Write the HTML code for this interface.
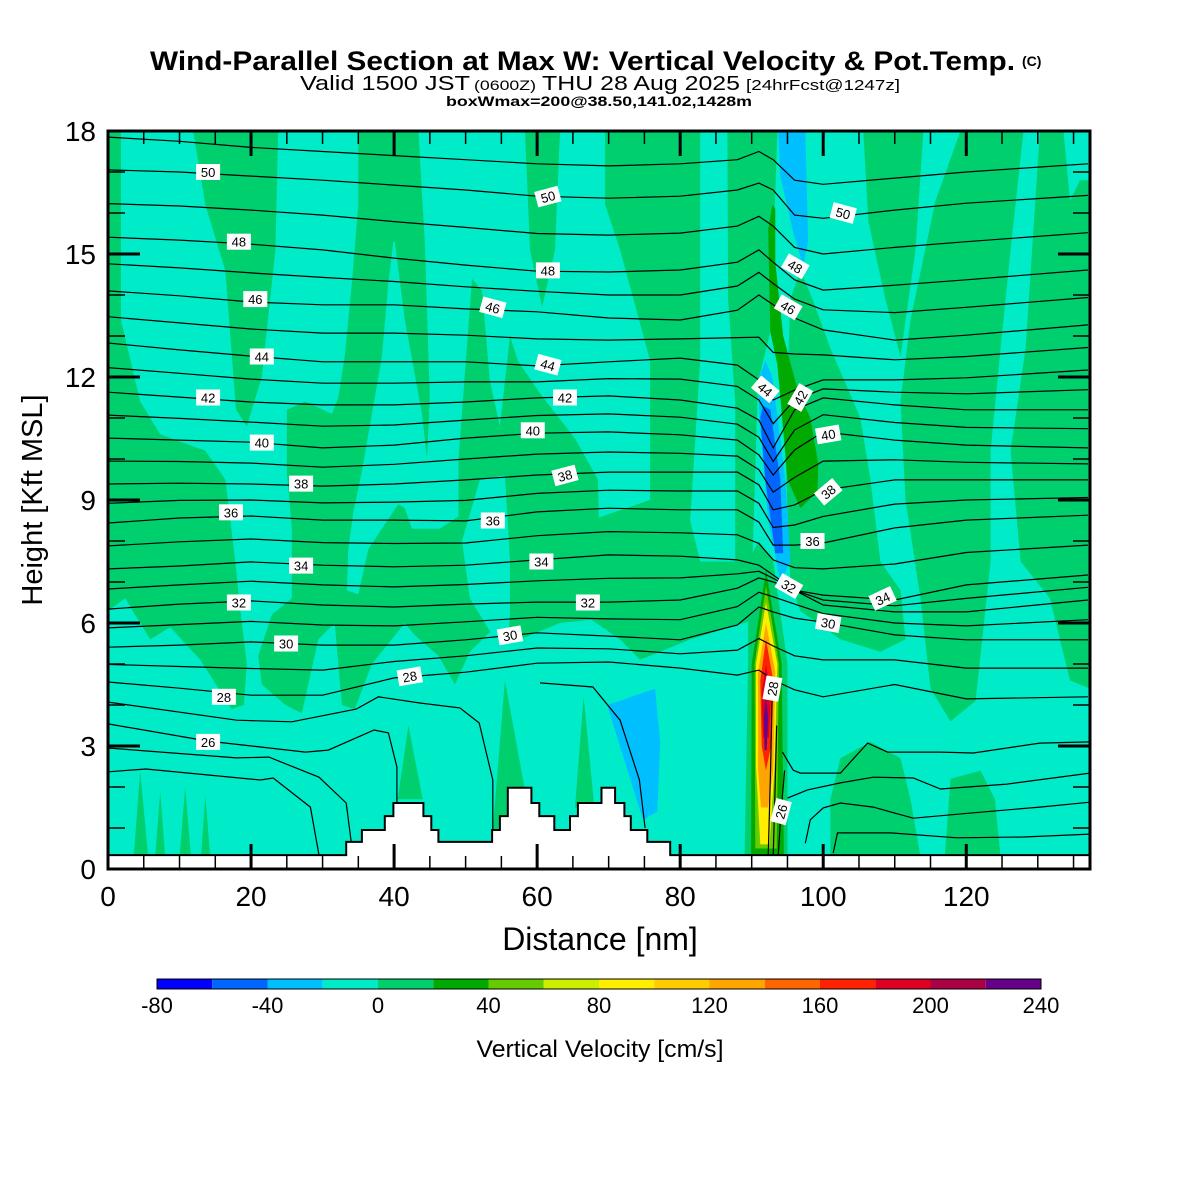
<!DOCTYPE html>
<html><head><meta charset="utf-8"><title>Wind-Parallel Section</title>
<style>
html,body{margin:0;padding:0;background:#fff;}
svg{display:block;font-family:"Liberation Sans",Arial,sans-serif;}
</style></head>
<body>
<svg id="chart" xmlns="http://www.w3.org/2000/svg" width="1200" height="1200" viewBox="0 0 1200 1200">
<rect x="0" y="0" width="1200" height="1200" fill="#ffffff"/>
<g>
<text x="150" y="70" font-size="27" font-weight="bold" textLength="865" lengthAdjust="spacingAndGlyphs">Wind-Parallel Section at Max W: Vertical Velocity &amp; Pot.Temp.</text>
<text x="1022" y="66" font-size="14" font-weight="bold">(C)</text>
<text y="90"><tspan x="300" font-size="20" textLength="170" lengthAdjust="spacingAndGlyphs">Valid 1500 JST</tspan><tspan x="474" font-size="14" textLength="62" lengthAdjust="spacingAndGlyphs">(0600Z)</tspan><tspan x="542" font-size="20" textLength="198" lengthAdjust="spacingAndGlyphs">THU 28 Aug 2025</tspan><tspan x="746" font-size="15" textLength="154" lengthAdjust="spacingAndGlyphs">[24hrFcst@1247z]</tspan></text>
<text x="446" y="106" font-size="14" font-weight="bold" textLength="306" lengthAdjust="spacingAndGlyphs">boxWmax=200@38.50,141.02,1428m</text>
</g>
<defs><clipPath id="plotClip"><rect x="108" y="131" width="982" height="738"/></clipPath></defs>
<g id="plot" clip-path="url(#plotClip)"></g>
<g id="axes"></g>
<g id="cbar"></g>
<text x="600" y="950" font-size="32" text-anchor="middle">Distance [nm]</text>
<text transform="translate(42,500) rotate(-90)" font-size="29" text-anchor="middle">Height [Kft MSL]</text>
<text x="600" y="1057" font-size="24" text-anchor="middle" textLength="247" lengthAdjust="spacingAndGlyphs">Vertical Velocity [cm/s]</text>
</svg>
<script>
// ---------- data ----------
const X_MAX = 137.3, Y_MAX = 18;
const xTicks = [0,20,40,60,80,100,120];
const yTicks = [0,3,6,9,12,15,18];
const cbarLevels = [-80,-60,-40,-20,0,20,40,60,80,100,120,140,160,180,200,220,240];
const cbarColors = ["#0000ff","#0066ff","#00bfff","#00ecc8","#00cf6e","#00aa00","#66cc00","#ccee00","#ffee00","#ffcc00","#ffa500","#ff6600","#ff2200","#dd0022","#aa0044","#660088"];
const cbarLabels = [-80,-40,0,40,80,120,160,200,240];

// potential temperature contour sample distances (nm)
const contourNm = [0,10,20,30,40,50,60,70,80,88,91,93,96,100,110,120,137];
const t51 = [17.85,17.75,17.6,17.5,17.4,17.3,17.2,17.15,17.2,17.3,17.5,17.3,16.8,16.7,16.85,17.0,17.2];
const t50 = [17.05,17.0,16.90,16.80,16.68,16.56,16.41,16.36,16.41,16.56,16.73,16.56,15.95,15.87,16.07,16.24,16.43];
const t49 = [16.23,16.17,16.07,15.95,15.79,15.65,15.5,15.46,15.51,15.68,15.92,15.68,15.16,15.0,15.16,15.3,15.52];
const t48 = [15.41,15.34,15.24,15.10,14.90,14.73,14.58,14.56,14.61,14.80,15.10,14.80,14.37,14.12,14.24,14.37,14.61];
const t47 = [14.76,14.66,14.54,14.43,14.33,14.2,14.09,14.0,14.0,14.22,14.55,14.28,13.9,13.64,13.57,13.7,13.94];
const t46 = [14.1,13.98,13.83,13.76,13.76,13.66,13.59,13.44,13.39,13.63,14.0,13.76,13.44,13.15,12.9,13.02,13.27];
const t45 = [13.47,13.32,13.17,13.07,13.07,13.02,12.93,12.9,12.93,12.96,12.97,12.6,12.56,12.54,12.42,12.5,12.72];
const t44 = [12.83,12.66,12.51,12.37,12.37,12.37,12.27,12.37,12.46,12.29,11.93,11.44,11.68,11.93,11.93,11.98,12.17];
const t43 = [12.23,12.09,11.95,11.85,11.85,11.88,11.88,11.96,11.95,11.77,11.44,10.86,11.44,11.71,11.63,11.59,11.69];
const t42 = [11.63,11.51,11.39,11.32,11.32,11.39,11.49,11.54,11.44,11.24,10.95,10.27,11.2,11.49,11.32,11.2,11.2];
const t41 = [11.07,10.99,10.9,10.8,10.83,10.95,11.06,11.1,11.02,10.85,10.53,9.94,10.71,11.08,10.89,10.77,10.74];
const t40 = [10.51,10.46,10.41,10.27,10.34,10.51,10.63,10.66,10.59,10.46,10.1,9.61,10.22,10.66,10.46,10.34,10.27];
const t39 = [9.95,9.94,9.9,9.8,9.87,10.0,10.12,10.17,10.14,10.07,9.74,9.19,9.55,9.95,9.98,9.92,9.88];
const t38 = [9.39,9.41,9.39,9.34,9.39,9.49,9.61,9.68,9.68,9.68,9.37,8.76,8.88,9.24,9.49,9.49,9.49];
const t37 = [8.92,8.99,9.0,8.93,8.95,8.99,9.16,9.24,9.22,9.22,8.92,8.33,8.39,8.6,8.9,9.0,9.06];
const t36 = [8.44,8.56,8.61,8.51,8.51,8.49,8.71,8.80,8.76,8.76,8.46,7.90,7.90,7.95,8.32,8.51,8.63];
const t35 = [7.88,7.98,8.05,7.96,7.94,7.95,8.13,8.23,8.2,8.15,7.94,7.54,7.35,7.32,7.44,7.72,7.9];
const t34 = [7.32,7.39,7.49,7.41,7.37,7.41,7.54,7.66,7.63,7.54,7.41,7.17,6.80,6.68,6.56,6.93,7.17];
const t33 = [6.83,6.93,7.02,6.93,6.88,6.94,7.03,7.09,7.1,7.2,7.26,7.09,6.8,6.56,6.42,6.6,6.87];
const t32 = [6.34,6.46,6.54,6.44,6.39,6.46,6.51,6.51,6.56,6.85,7.10,7.0,6.80,6.44,6.27,6.27,6.56];
const t31 = [5.88,5.96,6.04,5.95,5.93,6.03,6.14,6.1,6.08,6.4,6.75,6.64,6.46,6.23,6.0,5.93,6.08];
const t30 = [5.41,5.46,5.54,5.46,5.46,5.59,5.76,5.68,5.59,5.95,6.39,6.27,6.12,6.02,5.71,5.59,5.59];
const t29 = [4.99,4.94,4.89,4.85,5.06,5.2,5.39,5.37,5.25,5.34,5.62,5.44,5.2,5.1,5.1,4.9,4.9];
const t28 = [4.56,4.41,4.24,4.24,4.66,4.80,5.02,5.05,4.90,4.73,4.85,4.61,4.37,4.2,4.5,4.15,4.2];
const fullContours = [t51,t50,t49,t48,t47,t46,t45,t44,t43,t42,t41,t40,t39,t38,t37,t36,t35,t34,t33,t32,t31,t30,t29,t28];

// partial low-level contours [nm, kft]
const t27Left = [[0,4.07],[18.0,3.63],[25.7,3.59],[34.7,3.9],[37.8,4.2],[43.6,4.05],[49.2,3.93],[51.9,3.56],[53.8,2.17],[53.8,0.95]];
const t26Left = [[0,3.54],[14.0,3.12],[27.6,2.85],[30.8,2.9],[37.2,3.39],[39.2,3.32],[40.4,2.49],[40.4,1.61]];
const t25Left = [[0,2.95],[18.0,2.71],[22.5,2.73],[29.5,2.24],[33.3,1.61],[34.0,0.66]];
const t24Left = [[0,2.37],[5.3,2.44],[21.3,2.17],[23.1,2.22],[28.3,1.51],[29.5,0.34]];
const t27Mid = [[60.4,4.54],[67.8,4.44],[71.6,3.63],[74.3,2.17],[75.1,1.0]];
const t27Right = [[94.3,2.85],[95.8,2.41],[96.8,2.34],[102.4,2.34],[106.2,3.07],[109.0,2.85],[116.4,2.85],[121.0,2.83],[130.3,3.07],[137.3,3.1]];
const t26Right = [[95.0,1.73],[97.8,1.93],[102.4,2.1],[107.0,2.24],[112.6,2.22],[116.4,1.95],[125.7,2.07],[137.3,2.34]];
const t25Right = [[97.5,0.63],[98.2,1.2],[100,1.49],[102.4,1.61],[107,1.51],[112.6,1.24],[121,1.37],[130.3,1.51],[137.3,1.63]];
const t24Right = [[101.4,0.39],[102,0.88],[109.4,0.88],[118.7,0.76],[128,0.78],[137.3,0.85]];
const jetLineA = [[92.9,4.4],[92.6,2.17],[92.3,0.32]];
const jetLineB = [[93.5,3.5],[93.2,1.5],[93.0,0.32]];
const jetLineC = [[94.6,2.4],[94.1,1.4],[93.7,0.32]];
const partialContours = [t27Left,t26Left,t25Left,t24Left,t27Mid,t27Right,t26Right,t25Right,t24Right,jetLineA,jetLineB,jetLineC];

// contour labels
const labelValues = [50,50,50,48,48,48,46,46,46,44,44,44,42,42,42,40,40,40,38,38,38,36,36,36,34,34,34,32,32,32,30,30,30,28,28,28,26,26];
const labelNm  = [14.0,61.5,102.8,18.3,61.5,96.1,20.6,53.8,95.1,21.5,61.5,91.9,14.0,63.9,96.8,21.5,59.4,100.7,27.0,63.9,100.7,17.2,53.8,98.5,27.0,60.6,108.3,18.3,67.1,95.2,24.9,56.2,100.7,16.2,42.2,92.9,14.0,94.1];
const labelKft = [17.0,16.4,16.0,15.3,14.6,14.7,13.9,13.7,13.7,12.5,12.3,11.7,11.5,11.5,11.5,10.4,10.7,10.6,9.4,9.6,9.2,8.7,8.5,8.0,7.4,7.5,6.6,6.5,6.5,6.9,5.5,5.7,6.0,4.2,4.7,4.4,3.1,1.4];
const labelAngle = [0,-15,15,0,0,30,0,15,30,0,15,40,0,0,-60,0,0,-10,0,-15,-40,0,0,0,0,0,-25,0,0,30,0,-10,10,0,-10,-80,0,-75];

// terrain (step edges nm, heights kft)
const terrainEdges = [0,33.3,35.5,38.7,39.9,44.1,45.2,46.2,53.7,54.8,55.9,59.2,60.3,62.4,64.6,65.7,69.0,70.9,72.2,73.1,75.4,78.6,137.3];
const terrainHeights = [0.34,0.66,0.95,1.29,1.61,1.29,0.95,0.66,0.95,1.29,1.98,1.61,1.29,0.95,1.29,1.61,1.98,1.61,1.29,0.95,0.66,0.34];

// vertical velocity regions [nm, kft]
const greenLeftStrip = [[0,18],[1.8,18],[1.8,13.4],[4.5,11.4],[7.3,10.6],[13.6,10.2],[16.4,9.5],[17.8,7.5],[18.5,6.3],[19.4,5.0],[19.0,4.0],[17.3,3.9],[12.9,5.1],[8.7,5.9],[5.9,5.6],[2.4,6.6],[0,6.3]];
const greenColumnA = [[11.9,18],[23.8,18],[23.4,15.1],[21.5,12.0],[19.4,10.8],[17.9,11.2],[16.4,14.6],[13.6,16.2]];
const greenMiddle = [[35.0,18],[43.4,18],[44.3,15.3],[45,11.5],[44.6,10.0],[46.4,9.7],[49,10.0],[49,8.3],[50.6,5.3],[48.5,4.5],[46.2,5.2],[42.9,5.7],[41.5,6.0],[39.2,5.5],[36.9,5.0],[34.5,3.9],[32.7,4.0],[31.7,6.0],[29.4,5.6],[27.1,3.8],[24.8,4.0],[21.5,4.5],[21.0,5.2],[22.9,6.2],[25.7,6.6],[25.7,8.3],[25.0,9.7],[25.0,11.2],[27.6,11.4],[31.3,11.1],[32.2,11.5],[33.1,12.5],[34.1,14.3],[35.0,16.2]];
const greenTopB = [[58.3,18],[63.2,18],[62.5,15.1],[60.7,13.7],[59.0,15.1]];
const greenColumnC = [[50.9,14.4],[52.3,14.1],[53.4,11.9],[54.8,10.8],[56.2,13.0],[57.3,12.4],[60.4,11.6],[65.3,10.5],[68.5,9.5],[68.8,7.5],[68.8,6.1],[63.2,6.0],[57.6,5.6],[54.1,5.9],[50.6,5.3],[49,8.3],[49,10.0]];
const greenColumnD = [[69.5,18],[82.8,18],[82.8,12.4],[81.4,8.5],[82.8,7.5],[90.8,7.5],[90.8,6.1],[81.4,5.6],[74.4,5.1],[71.6,5.6],[67.4,6.1],[67.4,8.5],[75.8,9.0],[75.8,12.4],[71.6,15.1],[69.5,16.2]];
const greenColumnE = [[86.6,18],[93.6,18],[92.6,13.1],[90.9,11.9],[90.1,7.5],[87.7,7.5],[87.7,11.4],[86.7,13.9]];
const greenLee = [[95.4,13.9],[96.8,14.6],[98.5,13.9],[101,12.7],[105.2,11.0],[106.6,9.5],[108,7.5],[110.8,6.8],[111.5,5.6],[108,5.3],[102.4,5.6],[96.8,6.3],[95.4,7.0],[94.7,10.2]];
const greenTopF = [[105.6,18],[114,18],[112.9,15.1],[110.8,12.5],[108.7,13.9],[106.3,15.8]];
const greenColumnG = [[112.2,13.4],[115.7,16.3],[119.2,18],[128,18],[126.2,15.1],[124.8,12.7],[123.4,10.2],[123.4,7.5],[121.3,4.1],[117.8,3.6],[115,4.4],[113.6,6.6],[111.5,9.0],[110.8,11.4]];
const greenRightEdge = [[130.3,18],[133.6,18],[134.5,16.3],[135.9,16.8],[137.3,16.8],[137.3,4.4],[134.5,4.6],[131.7,6.6],[127.6,7.5],[126.2,10.2],[128.3,12.7]];
const greenLowH = [[102.4,2.7],[106.6,3.1],[110.8,2.7],[112.2,1.7],[113.6,0.3],[101,0.3],[101,1.7]];
const greenLowI = [[117.8,2.2],[122,2.4],[124,1.7],[124.8,0.3],[117,0.3]];
const greenJetBase = [[89.5,7.5],[91,8],[93,7.5],[95,5],[95,0.3],[89,0.3],[89.5,5]];
const greenSpike1 = [[4.5,2.4],[3.6,0.3],[5.6,0.3]];
const greenSpike2 = [[7.3,1.9],[6.6,0.3],[8,0.3]];
const greenSpike3 = [[10.8,2.0],[10,0.3],[11.6,0.3]];
const greenSpike4 = [[13.6,1.8],[13,0.3],[14.3,0.3]];
const greenSpike5 = [[55.5,4.6],[53.5,0.3],[60,0.3]];
const greenSpike6 = [[66.5,4.2],[65.3,1.5],[68,1.5]];
const greenSpike7 = [[42,3.5],[40.5,1.7],[44,1.7]];
const greenRegions = [greenLeftStrip,greenColumnA,greenMiddle,greenTopB,greenColumnC,greenColumnD,greenColumnE,greenLee,greenTopF,greenColumnG,greenRightEdge,greenLowH,greenLowI,greenJetBase,greenSpike1,greenSpike2,greenSpike3,greenSpike4,greenSpike5,greenSpike6,greenSpike7];
const calmWedge = [[39.9,15.3],[39.2,14.3],[38.3,12.5],[36.9,11.1],[35.5,9.7],[34.3,8.7],[33.6,7.8],[33.4,6.8],[35.0,6.7],[36.4,7.8],[38.3,8.3],[40.6,8.9],[41.5,8.8],[42.5,8.3],[46.4,8.3],[49,8.6],[49,10.0],[45,10.0],[44.6,10.0],[43.9,11.1],[41.5,13.4],[40.1,15.3]];
const calmHole = [[52.0,9.5],[55.5,9.6],[56.2,7.5],[56.2,6.1],[55.5,5.2],[54.1,5.6],[50.6,6.6],[49.5,8.0]];
const calmRegions = [calmWedge,calmHole];
const updraftStreak = [[92.9,16.2],[92.3,15.6],[92.6,13.1],[93.6,12.3],[94.0,11.5],[94.4,10.7],[95.0,9.5],[96.8,8.8],[99.2,9.2],[99.3,9.9],[98.2,11.0],[96.4,11.7],[94.4,13.0],[93.3,14.8],[93.3,16.1]];
const downUpper = [[93.7,18],[97.5,18],[97.9,15.3],[97.2,14.7],[95.7,15.6],[94.0,16.9]];
const downLower = [[91.9,12.4],[92.9,12.0],[94.7,9.5],[95.4,7.5],[94.0,7.0],[92.3,8.5],[91.2,10.7],[90.9,11.9]];
const downCore = [[91.6,11.3],[92.6,11.2],[94.0,9.5],[94.4,7.7],[93.3,7.7],[91.9,9.5],[91.2,11.0]];
const downValley = [[69.8,4.0],[71.6,4.1],[76.5,4.4],[77.2,3.1],[76.8,1.4],[74.8,1.2],[73,2.2]];
const jetDarkGreen = [[92,7.3],[94.2,5],[94.5,0.3],[89.9,0.3],[90,5]];
const jetLightGreen = [[92,6.9],[93.8,5],[93.5,0.5],[90.5,0.5],[90.4,5]];
const jetYellow = [[92,6.5],[93.6,5],[93.2,2.5],[92.5,0.6],[91.2,0.6],[90.6,2.5],[90.6,5]];
const jetOrange = [[92,6.0],[93.3,4.8],[93,2.4],[92.3,1.5],[91.3,1.5],[90.9,2.4],[90.9,4.8]];
const jetRed = [[92,5.6],[93,4.6],[92.7,3],[92,2.4],[91.4,3],[91.2,4.6]];
const jetCrimson = [[92,5],[92.7,4.3],[92.4,3.2],[91.6,3.2],[91.4,4.3]];
const jetPurple = [[92,4.2],[92.3,3.7],[92.1,2.9],[91.8,2.9],[91.7,3.7]];

// ---------- drawing ----------
const NS = "http://www.w3.org/2000/svg";
function sx(v){ return 108 + v * (982 / X_MAX); }
function sy(v){ return 869 - v * (738 / Y_MAX); }
function mk(tag, parent){ const e = document.createElementNS(NS, tag); parent.appendChild(e); return e; }
function pts(arr){ return arr.map(q => sx(q[0]).toFixed(1) + "," + sy(q[1]).toFixed(1)).join(" "); }
const plot = document.getElementById("plot");
const axes = document.getElementById("axes");
const cbar = document.getElementById("cbar");

function region(arr, fill, name){
  const p = mk("polygon", plot);
  p.setAttribute("points", pts(arr));
  p.setAttribute("fill", fill);
  
  
}
const bg = mk("rect", plot);
bg.setAttribute("x", 108); bg.setAttribute("y", 131); bg.setAttribute("width", 982); bg.setAttribute("height", 738);
bg.setAttribute("fill", "#00ecc8");



greenRegions.forEach(r => region(r, "#00cf6e", "weak-updraft-region"));
calmRegions.forEach(r => region(r, "#00ecc8", "weak-downdraft-region"));
region(updraftStreak, "#00aa00", "updraft-streak");
region(downUpper, "#00bfff", "downdraft-upper");
region(downLower, "#00bfff", "downdraft-lower");
region(downCore, "#0066ff", "downdraft-core");
region(downValley, "#00bfff", "downdraft-valley");
region(jetDarkGreen, "#00aa00", "jet-updraft-20");
region(jetLightGreen, "#66cc00", "jet-updraft-40");
region(jetYellow, "#ffee00", "jet-updraft-80");
region(jetOrange, "#ffa500", "jet-updraft-120");
region(jetRed, "#ff2200", "jet-updraft-160");
region(jetCrimson, "#dd0022", "jet-updraft-180");
region(jetPurple, "#660088", "jet-updraft-220");

// contours
fullContours.forEach(vals => {
  const l = mk("polyline", plot);
  l.setAttribute("points", pts(contourNm.map((x, i) => [x, vals[i]])));
  l.setAttribute("fill", "none");
  l.setAttribute("stroke", "#000");
  l.setAttribute("stroke-width", "1.2");
  
  
});
partialContours.forEach(arr => {
  const l = mk("polyline", plot);
  l.setAttribute("points", pts(arr));
  l.setAttribute("fill", "none");
  l.setAttribute("stroke", "#000");
  l.setAttribute("stroke-width", "1.2");
  
  
});

// terrain
const tp = [[0,0]];
terrainHeights.forEach((h, i) => { tp.push([terrainEdges[i], h]); tp.push([terrainEdges[i+1], h]); });
tp.push([X_MAX, 0]);
const terr = mk("polygon", plot);
terr.setAttribute("points", pts(tp));
terr.setAttribute("fill", "#fff");
terr.setAttribute("stroke", "#000");
terr.setAttribute("stroke-width", "2");



// contour labels
labelValues.forEach((v, i) => {
  const g = mk("g", plot);
  g.setAttribute("transform", "translate(" + sx(labelNm[i]).toFixed(1) + "," + sy(labelKft[i]).toFixed(1) + ") rotate(" + labelAngle[i] + ")");
  
  
  const r = mk("rect", g);
  r.setAttribute("x", -12); r.setAttribute("y", -8); r.setAttribute("width", 24); r.setAttribute("height", 16);
  r.setAttribute("fill", "#fff");
  const t = mk("text", g);
  t.setAttribute("x", 0); t.setAttribute("y", 5); t.setAttribute("font-size", "13");
  t.setAttribute("text-anchor", "middle");
  t.textContent = String(v);
});

// frame & ticks
function line(x1, y1, x2, y2, w, name){
  const l = mk("line", axes);
  l.setAttribute("x1", x1); l.setAttribute("y1", y1); l.setAttribute("x2", x2); l.setAttribute("y2", y2);
  l.setAttribute("stroke", "#000"); l.setAttribute("stroke-width", w);
  
  
}
for (let v = 0; v <= X_MAX; v += 5) {
  const major = v % 20 === 0;
  line(sx(v), 131, sx(v), 131 + (major ? 25 : 13), major ? 3 : 1.5, "x-tick-top");
  line(sx(v), 869, sx(v), 869 - (major ? 25 : 13), major ? 3 : 1.5, "x-tick-bottom");
}
for (let v = 0; v <= Y_MAX; v += 1) {
  const major = v % 3 === 0;
  line(108, sy(v), 108 + (major ? 32 : 17), sy(v), major ? 3 : 1.5, "y-tick-left");
  line(1090, sy(v), 1090 - (major ? 32 : 17), sy(v), major ? 3 : 1.5, "y-tick-right");
}
const frame = mk("rect", axes);
frame.setAttribute("x", 108); frame.setAttribute("y", 131); frame.setAttribute("width", 982); frame.setAttribute("height", 738);
frame.setAttribute("fill", "none"); frame.setAttribute("stroke", "#000"); frame.setAttribute("stroke-width", "3");



xTicks.forEach(v => {
  const t = mk("text", axes);
  t.setAttribute("x", sx(v)); t.setAttribute("y", 906);
  t.setAttribute("font-size", "28"); t.setAttribute("text-anchor", "middle");
  
  
  t.textContent = String(v);
});
yTicks.forEach(v => {
  const t = mk("text", axes);
  t.setAttribute("x", 96); t.setAttribute("y", sy(v) + 10);
  t.setAttribute("font-size", "28"); t.setAttribute("text-anchor", "end");
  
  
  t.textContent = String(v);
});

// colorbar
const cbX0 = 157, cbX1 = 1041;
function cx(v){ return cbX0 + (v - cbarLevels[0]) / (cbarLevels[cbarLevels.length-1] - cbarLevels[0]) * (cbX1 - cbX0); }
cbarColors.forEach((c, i) => {
  const r = mk("rect", cbar);
  r.setAttribute("x", cx(cbarLevels[i])); r.setAttribute("y", 979);
  r.setAttribute("width", cx(cbarLevels[i+1]) - cx(cbarLevels[i])); r.setAttribute("height", 10);
  r.setAttribute("fill", c);
  
  
});
const cbo = mk("rect", cbar);
cbo.setAttribute("x", cbX0); cbo.setAttribute("y", 979); cbo.setAttribute("width", cbX1 - cbX0); cbo.setAttribute("height", 10);
cbo.setAttribute("fill", "none"); cbo.setAttribute("stroke", "#000"); cbo.setAttribute("stroke-width", "1");


cbarLabels.forEach(v => {
  const t = mk("text", cbar);
  t.setAttribute("x", cx(v)); t.setAttribute("y", 1013);
  t.setAttribute("font-size", "22"); t.setAttribute("text-anchor", "middle");
  
  
  t.textContent = String(v);
});
</script>
</body></html>
